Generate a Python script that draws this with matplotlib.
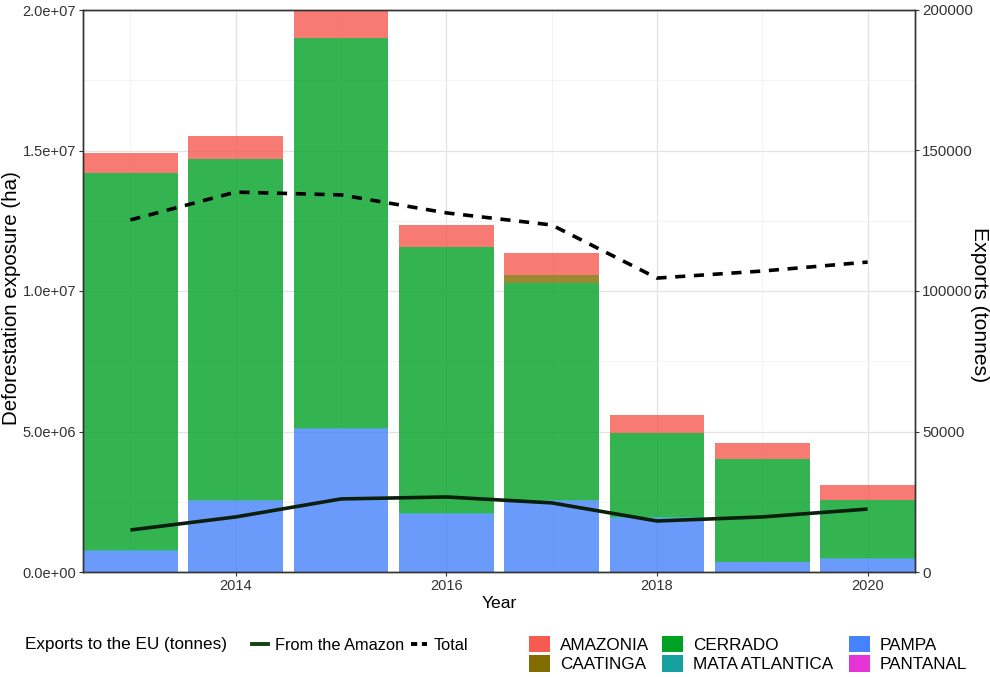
import numpy as np
import matplotlib
matplotlib.use("Agg")
import matplotlib.pyplot as plt
from matplotlib.lines import Line2D
from matplotlib.patches import Patch

plt.rcParams['font.family'] = ['Liberation Sans', 'DejaVu Sans']

# data
years = [2013, 2014, 2015, 2016, 2017, 2018, 2019, 2020]
regions = ["AMAZONIA", "CAATINGA", "CERRADO", "MATA ATLANTICA", "PAMPA", "PANTANAL"]
pantanal = [0.0, 0.0, 0.0, 0.0, 0.0, 0.0, 0.0, 0.0]
pampa = [0.76e6, 2.54e6, 5.10e6, 2.08e6, 2.52e6, 1.93e6, 0.34e6, 0.48e6]
mata_atlantica = [0.03e6, 0.03e6, 0.03e6, 0.03e6, 0.04e6, 0.03e6, 0.02e6, 0.02e6]
cerrado = [13.41e6, 12.13e6, 13.87e6, 9.46e6, 7.72e6, 2.99e6, 3.66e6, 2.06e6]
caatinga = [0.0, 0.0, 0.0, 0.0, 0.29e6, 0.0, 0.0, 0.0]
amazonia = [0.71e6, 0.82e6, 1.1e6, 0.78e6, 0.78e6, 0.64e6, 0.57e6, 0.54e6]
exports_total = [125300, 135200, 134200, 127800, 123500, 104600, 107100, 110300]
exports_amazon = [14950, 19600, 26000, 26700, 24600, 18150, 19600, 22400]

colors = {
    "AMAZONIA": "#F65A50",
    "CAATINGA": "#836D00",
    "CERRADO": "#00A224",
    "MATA ATLANTICA": "#16A0A0",
    "PAMPA": "#4582FB",
    "PANTANAL": "#E633D6",
}
# stacking order, bottom to top
stack = [("PANTANAL", pantanal), ("PAMPA", pampa), ("MATA ATLANTICA", mata_atlantica),
         ("CERRADO", cerrado), ("CAATINGA", caatinga), ("AMAZONIA", amazonia)]

W, H = 990, 677
fig = plt.figure(figsize=(9.9, 6.77), dpi=100)
ax = fig.add_axes([83 / W, 1 - 572 / H, 832 / W, 562 / H])

ax.set_axisbelow(True)
ax.grid(True, which="major", color="#E3E3E3", linewidth=0.9)
ax.grid(True, which="minor", color="#F1F1F1", linewidth=0.6)

bottom = np.zeros(len(years))
for name, vals in stack:
    vals = np.array(vals)
    ax.bar(years, vals, width=0.9, bottom=bottom, color=colors[name], alpha=0.8,
           linewidth=0)
    bottom += vals

tick_col = "#333333"
ax.set_xlim(2012.55, 2020.45)
ax.set_ylim(0, 2.0e7)
ax.set_xticks([2014, 2016, 2018, 2020])
ax.set_xticks([2013, 2015, 2017, 2019], minor=True)
ax.set_yticks([0, 5e6, 1e7, 1.5e7, 2e7])
ax.set_yticklabels(["0.0e+00", "5.0e+06", "1.0e+07", "1.5e+07", "2.0e+07"])
ax.set_yticks([2.5e6, 7.5e6, 12.5e6, 17.5e6], minor=True)
ax.tick_params(axis="both", which="major", labelsize=10.5, colors=tick_col,
               length=3, width=0.8, labelcolor=tick_col, pad=2)
ax.tick_params(axis="both", which="minor", length=0)
ax.set_xlabel("Year", fontsize=12.6, labelpad=2)
for s in ax.spines.values():
    s.set_color("#333333")
    s.set_linewidth(1.0)

ax2 = ax.twinx()
ax2.plot(years, exports_amazon, color="#0B1F0B", linewidth=2.6, solid_capstyle="butt")
ax2.plot(years, exports_total, color="black", linewidth=2.6, linestyle=(0, (2.8, 2.4)))
ax2.set_ylim(0, 200000)
ax2.set_yticks([0, 50000, 100000, 150000, 200000])
ax2.set_yticklabels(["0", "50000", "100000", "150000", "200000"])
ax2.tick_params(axis="y", labelsize=10.8, colors=tick_col, length=3, width=0.8,
                labelcolor=tick_col, pad=2)
for s in ax2.spines.values():
    s.set_color("#333333")
    s.set_linewidth(1.0)

# axis titles placed by pixel
fig.text(12 / W, 1 - 298 / H, "Deforestation exposure (ha)", fontsize=14.8,
         rotation=90, ha="center", va="center")
fig.text(980 / W, 1 - 305 / H, "Exports (tonnes)", fontsize=15.2,
         rotation=270, ha="center", va="center")

# legends
leg_fs = 12.3
row1 = 1 - 645 / H
row_mid = 1 - 654 / H
fig.text(25 / W, row1, "Exports to the EU (tonnes)", fontsize=leg_fs,
         va="center", ha="left")
line_specs = [
    (Line2D([], [], color="#124412", linewidth=2.8), "From the Amazon", 252),
    (Line2D([], [], color="black", linewidth=2.8, linestyle=(0, (1.6, 1.2))), "Total", 411),
]
for handle, label, xpix in line_specs:
    fig.legend([handle], [label], loc="center left", bbox_to_anchor=(xpix / W, row1),
               frameon=False, fontsize=11.8, handlelength=1.0, handletextpad=0.4,
               borderpad=0, borderaxespad=0)

columns = [(["AMAZONIA", "CAATINGA"], 529), (["CERRADO", "MATA ATLANTICA"], 662),
           (["PAMPA", "PANTANAL"], 849)]
for labels, xpix in columns:
    handles = [Patch(facecolor=colors[r], edgecolor="none") for r in labels]
    fig.legend(handles, labels, loc="center left", bbox_to_anchor=(xpix / W, row_mid),
               frameon=False, fontsize=leg_fs, handlelength=1.2, handleheight=1.1,
               handletextpad=0.6, labelspacing=0.15, borderpad=0, borderaxespad=0)

fig.savefig("out.png", dpi=100)
